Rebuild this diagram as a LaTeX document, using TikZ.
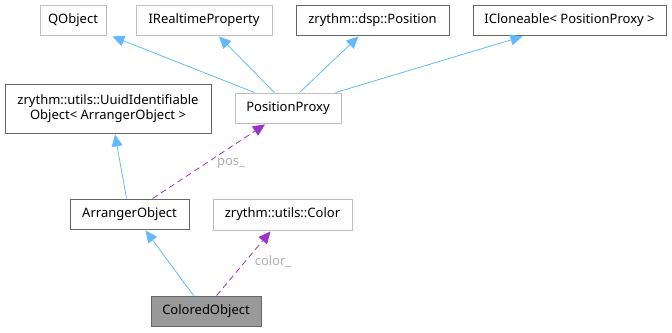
\documentclass[tikz,border=0pt]{standalone}
\usepackage{fontspec}
\setmainfont{Noto Sans}
\usetikzlibrary{arrows.meta}
\definecolor{edgeblue}{HTML}{63B8FF}
\definecolor{edgepurple}{HTML}{9A32CD}
\definecolor{lightborder}{HTML}{BFBFBF}
\definecolor{darkborder}{HTML}{666666}
\definecolor{labelgray}{HTML}{B0B0B0}
\begin{document}
\begin{tikzpicture}[x=1pt,y=-1pt,
  box/.style={draw=#1,fill=white,rectangle,inner sep=0pt,font=\fontsize{13}{15.5}\selectfont,align=center,line width=0.9pt},
  inherit/.style={draw=edgeblue,line width=0.8pt,-{Triangle[length=12pt,width=11pt]}},
  usage/.style={draw=edgepurple,line width=0.8pt,dashed,dash pattern=on 6pt off 4pt,-{Triangle[length=12pt,width=11pt]}},
  elabel/.style={text=labelgray,font=\fontsize{13}{15.5}\selectfont}]
\useasboundingbox (0,0) rectangle (672,332);
\node[box=lightborder,minimum width=66pt,minimum height=30pt] (qo) at (73,20) {QObject};
\node[box=lightborder,minimum width=136pt,minimum height=30pt] (irp) at (204,20) {IRealtimeProperty};
\node[box=darkborder,minimum width=153pt,minimum height=30pt] (pos) at (372.5,20) {zrythm::dsp::Position};
\node[box=darkborder,minimum width=193pt,minimum height=30pt] (icl) at (569.5,20) {ICloneable< PositionProxy >};
\node[box=darkborder,minimum width=206pt,minimum height=49pt] (uuid) at (108,108.5) {zrythm::utils::UuidIdentifiable\\Object< ArrangerObject >};
\node[box=lightborder,minimum width=106pt,minimum height=30pt] (pp) at (288,108) {PositionProxy};
\node[box=darkborder,minimum width=119pt,minimum height=30pt] (ao) at (129.5,214) {ArrangerObject};
\node[box=lightborder,minimum width=139pt,minimum height=31pt] (col) at (282.5,214.5) {zrythm::utils::Color};
\node[box=darkborder,fill=black!40,minimum width=110pt,minimum height=30pt] (co) at (206,311) {ColoredObject};
\draw[inherit] ([xshift=20pt]pp.north west) -- ([xshift=6pt,yshift=-1pt]qo.south east);
\draw[inherit] ([xshift=40pt]pp.north west) -- ([xshift=15pt,yshift=-1pt]irp.south);
\draw[inherit] ([xshift=65pt]pp.north west) -- ([xshift=-14pt,yshift=-1pt]pos.south);
\draw[inherit] ([xshift=-6pt]pp.north east) -- ([xshift=-47pt,yshift=-1pt]icl.south);
\draw[inherit] ([xshift=57pt]ao.north west) -- ([xshift=7pt,yshift=-1pt]uuid.south);
\draw[usage] ([xshift=83pt]ao.north west) -- ([xshift=-23pt,yshift=-1pt]pp.south);
\draw[inherit] ([xshift=43pt]co.north west) -- ([xshift=76pt,yshift=-1pt]ao.south west);
\draw[usage] ([xshift=66pt]co.north west) -- ([xshift=-12pt,yshift=-1pt]col.south);
\node[elabel] (lp) at (231,164) {pos\_};
\node[elabel] (lc) at (273,262) {color\_};
\end{tikzpicture}
\end{document}
